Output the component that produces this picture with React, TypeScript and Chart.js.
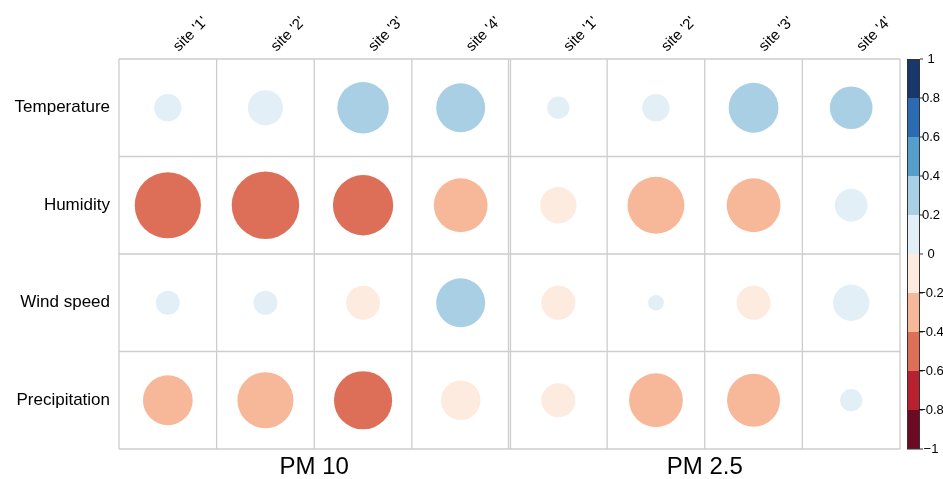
import React, { useEffect, useRef } from "react";
import { Chart, registerables } from "chart.js";

Chart.register(...registerables);

const variables = ["Temperature", "Humidity", "Wind speed", "Precipitation"];
const sites = ["site '1'", "site '2'", "site '3'", "site '4'"];
const groups = ["PM 10", "PM 2.5"];

// rows: Temperature, Humidity, Wind speed, Precipitation; cols: site 1..4
const pm10 = [
  [0.09, 0.15, 0.32, 0.29],
  [-0.53, -0.55, -0.44, -0.35],
  [0.07, 0.07, -0.14, 0.29],
  [-0.3, -0.38, -0.41, -0.19],
];
const pm25 = [
  [0.06, 0.09, 0.3, 0.22],
  [-0.16, -0.39, -0.35, 0.13],
  [-0.14, 0.03, -0.14, 0.16],
  [-0.14, -0.35, -0.34, 0.06],
];

// colour bins from -1 to 1 (step 0.2)
const palette = [
  "#6B0A22",
  "#B8212F",
  "#DD6F59",
  "#F7B799",
  "#FDEBE0",
  "#E3EFF6",
  "#A8CFE3",
  "#579FCB",
  "#2A6BB1",
  "#18386B",
];
const legendTicks = [1, 0.8, 0.6, 0.4, 0.2, 0, -0.2, -0.4, -0.6, -0.8, -1];

function colorFor(v: number) {
  let i = Math.floor((v + 1) / 0.2 + 1e-9);
  if (i < 0) i = 0;
  if (i > 9) i = 9;
  return palette[i];
}

const FONT = "'Liberation Sans', Arial, Helvetica, sans-serif";

export default function App() {
  const ref = useRef<HTMLCanvasElement | null>(null);

  useEffect(() => {
    document.body.style.margin = "0";
    const canvas = ref.current;
    if (!canvas) return;

    const points: { x: number; y: number; v: number }[] = [];
    [pm10, pm25].forEach((m, g) => {
      m.forEach((row, r) => {
        row.forEach((v, c) => {
          points.push({ x: c + g * 4, y: r, v });
        });
      });
    });

    const gridPlugin = {
      id: "corrGrid",
      beforeDatasetsDraw(chart: any) {
        const { ctx } = chart;
        const xs = chart.scales.x;
        const ys = chart.scales.y;
        ctx.save();
        ctx.strokeStyle = "#CDCDCD";
        ctx.lineWidth = 1.3;
        const top = ys.getPixelForValue(-0.5);
        const bottom = ys.getPixelForValue(3.5);
        const left = xs.getPixelForValue(-0.5);
        const right = xs.getPixelForValue(7.5);
        for (let i = 0; i <= 8; i++) {
          const px = xs.getPixelForValue(i - 0.5);
          ctx.beginPath();
          if (i === 4) {
            ctx.moveTo(px - 1, top);
            ctx.lineTo(px - 1, bottom);
            ctx.moveTo(px + 1, top);
            ctx.lineTo(px + 1, bottom);
          } else {
            ctx.moveTo(px, top);
            ctx.lineTo(px, bottom);
          }
          ctx.stroke();
        }
        for (let j = 0; j <= 4; j++) {
          const py = ys.getPixelForValue(j - 0.5);
          ctx.beginPath();
          ctx.moveTo(left, py);
          ctx.lineTo(right, py);
          ctx.stroke();
        }
        ctx.restore();
      },
      afterDraw(chart: any) {
        const { ctx, chartArea } = chart;
        const xs = chart.scales.x;

        // rotated column labels along the top
        ctx.save();
        ctx.fillStyle = "#000000";
        ctx.font = `15px ${FONT}`;
        ctx.textAlign = "left";
        ctx.textBaseline = "alphabetic";
        for (let i = 0; i < 8; i++) {
          const cx = xs.getPixelForValue(i);
          ctx.save();
          ctx.translate(cx + 11, chartArea.top - 7);
          ctx.rotate(-Math.PI / 4);
          ctx.fillText(sites[i % 4], 0, 0);
          ctx.restore();
        }
        ctx.restore();

        // colour legend
        const x0 = chartArea.right + 7;
        const w = 13;
        const top = chartArea.top;
        const h = chartArea.bottom - chartArea.top;
        ctx.save();
        for (let i = 0; i < 10; i++) {
          const vTop = 1 - i * 0.2;
          const y1 = top + ((1 - vTop) / 2) * h;
          const y2 = top + ((1 - (vTop - 0.2)) / 2) * h;
          ctx.fillStyle = palette[9 - i];
          ctx.fillRect(x0, y1, w, y2 - y1 + 0.5);
        }
        ctx.strokeStyle = "#333333";
        ctx.lineWidth = 1;
        ctx.strokeRect(x0 + 0.5, top + 0.5, w - 1, h - 1);
        ctx.fillStyle = "#000000";
        ctx.font = `13px ${FONT}`;
        ctx.textAlign = "center";
        ctx.textBaseline = "middle";
        legendTicks.forEach((t) => {
          const y = top + ((1 - t) / 2) * h;
          ctx.beginPath();
          ctx.moveTo(x0 + w, y);
          ctx.lineTo(x0 + w + 3, y);
          ctx.stroke();
          const label = t < 0 ? "\u2212" + String(Math.abs(t)) : String(t);
          ctx.fillText(label, x0 + w + 11, y);
        });
        ctx.restore();
      },
    };

    const radiusFn = (c: any) => {
      const p = c.raw;
      if (!p) return 0;
      const xs = c.chart.scales.x;
      const cell = Math.abs(xs.getPixelForValue(1) - xs.getPixelForValue(0));
      return Math.sqrt(Math.abs(p.v)) * 0.4657 * cell;
    };
    const colorFn = (c: any) => (c.raw ? colorFor(c.raw.v) : "#fff");

    const chart = new Chart(canvas, {
      type: "scatter",
      data: {
        datasets: [
          {
            data: points as any,
            pointRadius: radiusFn,
            pointHoverRadius: radiusFn,
            pointBackgroundColor: colorFn,
            pointHoverBackgroundColor: colorFn,
            pointBorderWidth: 0,
            pointHoverBorderWidth: 0,
            pointBorderColor: "rgba(0,0,0,0)",
          } as any,
        ],
      },
      options: {
        responsive: false,
        animation: false,
        events: [],
        layout: { padding: { left: 0, right: 43, top: 0, bottom: 0 } },
        plugins: {
          legend: { display: false },
          tooltip: { enabled: false },
        },
        scales: {
          x: {
            type: "linear",
            position: "top",
            min: -0.5,
            max: 7.5,
            grid: { display: false, drawTicks: false },
            border: { display: false },
            afterBuildTicks: (s: any) => {
              s.ticks = [0, 1, 2, 3, 4, 5, 6, 7].map((v) => ({ value: v }));
            },
            afterFit: (s: any) => {
              s.height = 59;
            },
            ticks: { display: false },
          },
          x2: {
            type: "linear",
            position: "bottom",
            min: -0.5,
            max: 7.5,
            grid: { display: false, drawTicks: false },
            border: { display: false },
            afterBuildTicks: (s: any) => {
              s.ticks = [1.5, 5.5].map((v) => ({ value: v }));
            },
            afterFit: (s: any) => {
              s.height = 30;
            },
            ticks: {
              autoSkip: false,
              maxRotation: 0,
              minRotation: 0,
              padding: 4,
              color: "#000",
              font: { family: FONT, size: 24 },
              callback: (v: any) => (Number(v) < 4 ? groups[0] : groups[1]),
            },
          },
          y: {
            type: "linear",
            position: "left",
            min: -0.5,
            max: 3.5,
            reverse: true,
            grid: { display: false, drawTicks: false },
            border: { display: false },
            afterBuildTicks: (s: any) => {
              s.ticks = [0, 1, 2, 3].map((v) => ({ value: v }));
            },
            afterFit: (s: any) => {
              s.width = 119;
            },
            ticks: {
              autoSkip: false,
              padding: 9,
              color: "#000",
              font: { family: FONT, size: 17 },
              callback: (v: any) => variables[Math.round(Number(v))],
            },
          },
        },
      },
      plugins: [gridPlugin],
    });

    return () => {
      chart.destroy();
    };
  }, []);

  return (
    <div style={{ width: 943, height: 479 }}>
      <canvas ref={ref} width={943} height={479} style={{ display: "block" }} />
    </div>
  );
}
